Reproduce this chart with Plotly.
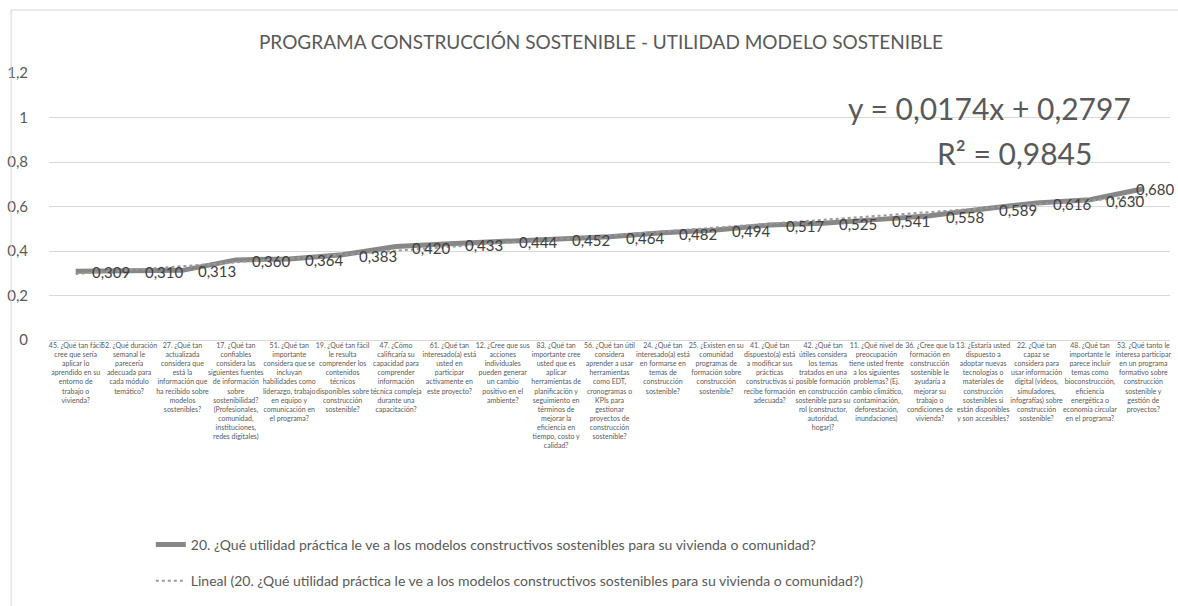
import numpy as np
import plotly.graph_objects as go

categories = [
    "45. ¿Qué tan fácil<br>cree que sería<br>aplicar lo<br>aprendido en su<br>entorno de<br>trabajo o<br>vivienda?",
    "52. ¿Qué duración<br>semanal le<br>parecería<br>adecuada para<br>cada módulo<br>temático?",
    "27. ¿Qué tan<br>actualizada<br>considera que<br>está la<br>información que<br>ha recibido sobre<br>modelos<br>sostenibles?",
    "17. ¿Qué tan<br>confiables<br>considera las<br>siguientes fuentes<br>de información<br>sobre<br>sostenibilidad?<br>(Profesionales,<br>comunidad,<br>instituciones,<br>redes digitales)",
    "51. ¿Qué tan<br>importante<br>considera que se<br>incluyan<br>habilidades como<br>liderazgo, trabajo<br>en equipo y<br>comunicación en<br>el programa?",
    "19. ¿Qué tan fácil<br>le resulta<br>comprender los<br>contenidos<br>técnicos<br>disponibles sobre<br>construcción<br>sostenible?",
    "47. ¿Cómo<br>calificaría su<br>capacidad para<br>comprender<br>información<br>técnica compleja<br>durante una<br>capacitación?",
    "61. ¿Qué tan<br>interesado(a) está<br>usted en<br>participar<br>activamente en<br>este proyecto?",
    "12. ¿Cree que sus<br>acciones<br>individuales<br>pueden generar<br>un cambio<br>positivo en el<br>ambiente?",
    "83. ¿Qué tan<br>importante cree<br>usted que es<br>aplicar<br>herramientas de<br>planificación y<br>seguimiento en<br>términos de<br>mejorar la<br>eficiencia en<br>tiempo, costo y<br>calidad?",
    "56. ¿Qué tan útil<br>considera<br>aprender a usar<br>herramientas<br>como EDT,<br>cronogramas o<br>KPIs para<br>gestionar<br>proyectos de<br>construcción<br>sostenible?",
    "24. ¿Qué tan<br>interesado(a) está<br>en formarse en<br>temas de<br>construcción<br>sostenible?",
    "25. ¿Existen en su<br>comunidad<br>programas de<br>formación sobre<br>construcción<br>sostenible?",
    "41. ¿Qué tan<br>dispuesto(a) está<br>a modificar sus<br>prácticas<br>constructivas si<br>recibe formación<br>adecuada?",
    "42. ¿Qué tan<br>útiles considera<br>los temas<br>tratados en una<br>posible formación<br>en construcción<br>sostenible para su<br>rol (constructor,<br>autoridad,<br>hogar)?",
    "11. ¿Qué nivel de<br>preocupación<br>tiene usted frente<br>a los siguientes<br>problemas? (Ej.<br>cambio climático,<br>contaminación,<br>deforestación,<br>inundaciones)",
    "36. ¿Cree que la<br>formación en<br>construcción<br>sostenible le<br>ayudaría a<br>mejorar su<br>trabajo o<br>condiciones de<br>vivienda?",
    "13. ¿Estaría usted<br>dispuesto a<br>adoptar nuevas<br>tecnologías o<br>materiales de<br>construcción<br>sostenibles si<br>están disponibles<br>y son accesibles?",
    "22. ¿Qué tan<br>capaz se<br>considera para<br>usar información<br>digital (videos,<br>simuladores,<br>infografías) sobre<br>construcción<br>sostenible?",
    "48. ¿Qué tan<br>importante le<br>parece incluir<br>temas como<br>bioconstrucción,<br>eficiencia<br>energética o<br>economía circular<br>en el programa?",
    "53. ¿Qué tanto le<br>interesa participar<br>en un programa<br>formativo sobre<br>construcción<br>sostenible y<br>gestión de<br>proyectos?",
]

values = [0.309, 0.310, 0.313, 0.360, 0.364, 0.383, 0.420, 0.433, 0.444, 0.452,
          0.464, 0.482, 0.494, 0.517, 0.525, 0.541, 0.558, 0.589, 0.616, 0.630, 0.680]

series_name = "20. ¿Qué utilidad práctica le ve a los modelos constructivos sostenibles para su vivienda o comunidad?"
trend_name = "Lineal (20. ¿Qué utilidad práctica le ve a los modelos constructivos sostenibles para su vivienda o comunidad?)"
title_text = "PROGRAMA CONSTRUCCIÓN SOSTENIBLE - UTILIDAD MODELO SOSTENIBLE"
equation_text = "y = 0,0174x + 0,2797"
r2_text = "R² = 0,9845"

# linear trendline computed from the series (x = 1..n)
xs = np.arange(1, len(values) + 1)
slope, intercept = np.polyfit(xs, values, 1)
trend = slope * xs + intercept

labels = [f"{v:.3f}".replace(".", ",") for v in values]

FONT = "Lato, 'Open Sans', sans-serif"
GRAY_TXT = "#595959"

W, H = 1178, 606
L, R, T, B = 48, 7, 73, 266
pw = W - L - R
ph = H - T - B

def px_x(x):
    return (x - L) / pw

def px_y(y):
    return (H - B - y) / ph

fig = go.Figure()

fig.add_trace(go.Scatter(
    x=categories, y=values, mode="lines", name=series_name,
    line=dict(color="#878787", width=5),
    legendgroup="a", hoverinfo="skip",
))
fig.add_trace(go.Scatter(
    x=categories, y=trend, mode="lines", name=trend_name,
    line=dict(color="#9a9a9a", width=2, dash="dot"),
    legendgroup="b", hoverinfo="skip",
))

# data labels placed to the right of each point (last one kept inside the chart)
annotations = []
n = len(values)
for i, (c, v, t) in enumerate(zip(categories, values, labels)):
    last = i == n - 1
    annotations.append(dict(
        x=c, y=v, xref="x", yref="y", text=t, showarrow=False,
        xanchor="right" if last else "left", yanchor="middle",
        xshift=34 if last else 14, yshift=0 if last else -1,
        font=dict(family=FONT, size=15, color="#404040"),
    ))

annotations += [
    dict(text=equation_text, xref="paper", yref="paper",
         x=px_x(990), y=px_y(108), xanchor="center", yanchor="middle",
         showarrow=False, font=dict(family=FONT, size=30, color=GRAY_TXT)),
    dict(text=r2_text, xref="paper", yref="paper",
         x=px_x(1015), y=px_y(153), xanchor="center", yanchor="middle",
         showarrow=False, font=dict(family=FONT, size=30, color=GRAY_TXT)),
]

fig.update_layout(
    width=W, height=H,
    margin=dict(l=L, r=R, t=T, b=B),
    paper_bgcolor="white", plot_bgcolor="white",
    separators=",.",
    title=dict(text=title_text, x=601 / W, xref="container",
               xanchor="center", y=1 - 42 / H, yref="container", yanchor="middle",
               font=dict(family=FONT, size=19, color=GRAY_TXT)),
    xaxis=dict(type="category", range=[-0.5, len(values) - 0.5],
               showgrid=False, showline=False, ticks="", tickangle=0,
               tickfont=dict(family="'Liberation Sans Narrow', " + FONT, size=7, color=GRAY_TXT),
               fixedrange=True),
    yaxis=dict(range=[0, 1.2], dtick=0.2, tick0=0, showgrid=True,
               gridcolor="#d9d9d9", gridwidth=1, zeroline=True,
               zerolinecolor="#d9d9d9", zerolinewidth=1, showline=False,
               ticks="", ticklabelstandoff=20,
               tickfont=dict(family=FONT, size=15, color=GRAY_TXT)),
    showlegend=True,
    legend=dict(orientation="v", x=px_x(150), xanchor="left",
                y=px_y(529), yanchor="top", tracegroupgap=15,
                font=dict(family=FONT, size=14, color=GRAY_TXT),
                bgcolor="rgba(0,0,0,0)"),
    annotations=annotations,
    shapes=[
        dict(type="rect", xref="paper", yref="paper",
             x0=px_x(10), y0=px_y(10), x1=px_x(W + 40), y1=px_y(H + 40),
             line=dict(color="#d4d4d4", width=1), layer="above"),
    ],
)

fig.write_html("out.html", config={"displayModeBar": False},
               post_script="document.body.style.margin='0';document.body.style.overflow='hidden';")
